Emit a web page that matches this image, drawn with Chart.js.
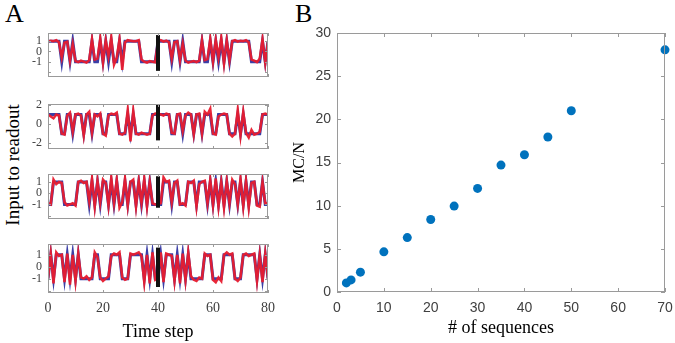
<!DOCTYPE html>
<html>
<head>
<meta charset="utf-8">
<script src="https://cdn.jsdelivr.net/npm/chart.js@4.4.0/dist/chart.umd.min.js"></script>
<style>
  body { margin: 0; background: #fff; width: 675px; height: 343px; position: relative; overflow: hidden; }
  canvas { position: absolute; }
  .lbl { position: absolute; color: #000; font-family: "Liberation Serif", serif; white-space: nowrap; line-height: 1; }
</style>
</head>
<body>
<div class="lbl" style="left:5px;top:1px;font-size:26px">A</div>
<div class="lbl" style="left:295px;top:1px;font-size:26px">B</div>
<div class="lbl" style="left:12px;top:165px;font-size:19px;transform:translate(-50%,-50%) rotate(-90deg)">Input to readout</div>

<canvas id="trace1" width="280" height="54" style="left:0;top:25px"></canvas>
<canvas id="trace2" width="280" height="55" style="left:0;top:96px"></canvas>
<canvas id="trace3" width="280" height="55" style="left:0;top:166px"></canvas>
<canvas id="trace4" width="280" height="107" style="left:0;top:236px"></canvas>
<canvas id="mcChart" width="385" height="323" style="left:290px;top:20px"></canvas>

<script>
// Panel A: target (blue) and readout (red) for four example runs, time steps 0..80
const target1 = [1,1,1,1,1,-1,1,1,-1,1, -1,-1,-1,-1,-1,-1,1,-1,-1,1, -1,1,-1,1,-1,-1,1,-1,1,1, 1,1,1,1,-1,-1,-1,-1,-1,-1,
  1,1,1,1,1,-1,1,1,-1,1, -1,-1,-1,-1,-1,-1,1,-1,-1,1, -1,1,-1,1,-1,1,-1,1,1,1, 1,1,1,1,-1,-1,-1,-1,1,-1, 1];
const readout1 = [0.95,1.05,1.0,1.1,0.9,-0.6,0.85,0.95,-0.9,0.7, -0.95,-1.05,-0.9,-1.0,-1.1,-0.85,1.2,-0.8,-0.7,1.3, -1.1,1.1,-0.5,1.4,-1.3,-0.6,1.2,-1.8,0.9,1.1, 1.05,1.0,1.0,1.1,-0.8,-1.0,-1.1,-0.95,-1.0,-1.05,
  1.0,1.1,0.95,1.05,0.9,-0.7,0.9,1.0,-0.85,0.75, -0.9,-1.1,-1.0,-0.95,-1.05,-0.9,1.1,-0.85,-0.75,1.25, -1.0,1.15,-0.6,1.35,-1.2,1.1,-0.9,1.0,1.1,0.95, 1.05,1.0,1.1,0.9,-0.8,-0.9,-1.05,-0.7,1.2,-1.1, 1.0];

const target2 = [1,1,1,1,1,-1,-1,1,1,-1, 1,1,1,-1,1,1,-1,1,1,1, -1,-1,1,1,1,1,-1,-1,-1,1, -1,1,-1,-1,-1,-1,-1,-1,1,1,
  1,1,1,1,1,-1,-1,1,1,-1, 1,1,1,-1,1,1,-1,1,1,1, -1,-1,1,1,1,1,-1,-1,-1,1, -1,1,-1,-1,-1,-1,-1,-1,1,1, 1];
const readout2 = [1.0,0.8,0.6,1.0,0.9,-1.0,-1.1,0.9,1.2,-0.8, 1.0,1.1,0.9,-1.2,1.0,1.3,-0.9,1.0,0.8,1.1, -1.0,-1.2,0.9,1.1,1.0,1.2,-1.0,-1.1,-0.9,1.5, -1.8,1.4,-1.0,-1.1,-0.9,-1.0,-1.1,-1.0,0.9,1.1,
  1.1,1.0,0.9,1.1,1.0,-0.9,-1.0,1.0,1.1,-0.7, 0.9,1.2,1.0,-1.1,1.0,1.1,-1.0,1.3,1.0,1.6, -1.0,-1.1,0.8,1.0,1.1,1.0,-1.0,-1.3,-1.0,1.5, -1.2,1.3,-0.9,-1.4,-0.6,-1.1,-1.0,-0.8,1.0,1.1, 1.0];

const target3 = [-1,-1,1,1,1,1,-1,-1,-1,-1, -1,1,1,1,1,-1,1,-1,1,-1, 1,1,-1,1,-1,1,-1,-1,1,-1, 1,1,-1,1,-1,1,-1,1,-1,-1,
  -1,-1,1,1,1,-1,1,1,-1,-1, -1,1,1,1,-1,1,1,1,-1,1, -1,1,-1,1,-1,1,-1,1,1,-1, 1,-1,1,-1,1,1,-1,-1,1,-1, -1];
const readout3 = [-0.9,-1.0,1.2,0.8,1.0,0.9,-0.8,-1.1,-1.0,-0.9, -1.1,1.0,1.1,0.9,1.0,-0.7,1.3,-1.2,1.1,-0.8, 1.2,0.9,-1.1,1.4,-0.9,1.2,-1.3,-0.8,1.3,-1.1, 1.0,1.2,-1.2,1.1,-0.9,1.3,-1.2,1.0,-0.9,-1.0,
  -1.0,-0.9,1.4,1.0,1.1,-0.8,0.9,1.1,-1.0,-0.9, -1.1,1.0,0.9,1.1,-1.2,0.8,1.0,1.1,-0.9,1.2, -1.1,1.3,-1.2,1.0,-1.3,1.1,-0.9,1.2,0.8,-1.0, 1.3,-1.2,1.1,-1.3,0.9,1.0,-1.1,-1.2,1.0,-0.9, -0.9];

const target4 = [-1,1,-1,1,1,1,-1,1,-1,1, -1,1,-1,-1,-1,-1,-1,1,1,-1, -1,-1,-1,1,1,1,1,-1,-1,-1, 1,1,1,1,1,-1,1,-1,1,-1,
  -1,1,-1,1,1,1,-1,1,-1,1, -1,1,-1,-1,-1,-1,-1,1,1,1, -1,-1,-1,-1,1,1,1,1,-1,-1, -1,1,1,1,1,1,-1,1,-1,1, -1];
const readout4 = [-1.0,1.1,-1.4,1.2,0.9,1.0,-1.3,1.1,-1.5,1.0, -1.2,1.1,-0.9,-1.0,-0.8,-1.1,-0.9,1.2,0.8,-0.9, -1.2,-1.0,-0.8,0.9,1.1,1.0,1.2,-0.9,-1.1,-1.0, 1.1,1.0,1.1,1.2,0.9,-1.3,1.0,-1.4,1.2,-1.1,
  -1.0,1.2,-1.3,1.1,1.0,0.9,-1.2,1.0,-1.4,1.1, -1.1,1.2,-0.8,-1.1,-1.2,-0.9,-1.0,1.1,0.9,1.0, -1.1,-1.3,-0.9,-1.2,1.0,1.2,1.0,1.1,-1.0,-1.2, -0.9,1.0,1.1,0.9,1.0,1.1,-1.2,1.0,-1.3,1.1, -1.0];

const xTicksA = [0, 20, 40, 60, 80];
const yTicksA = [[-2, -1, 0, 1], [-2, 0, 2], [-2, -1, 0, 1], [-2, -1, 0, 1]];
const yLabelsA = [[-1, 0, 1], [-2, 0, 2], [-1, 0, 1], [-1, 0, 1]];
const yRangeA = [[-2.5, 1.8], [-2.6, 2.1], [-2.3, 1.7], [-2.2, 1.9]];
// black cue bar at the middle of the run
const cueStep = 40;
const cueLow = [-1.9, -1.7, -1.3, -1.7];
const cueHigh = [1.6, 2.0, 1.5, 1.6];

// Panel B: memory capacity vs number of sequences
const seqCounts = [2, 3, 5, 10, 15, 20, 25, 30, 35, 40, 45, 50, 70];
const mcPerN = [1.05, 1.4, 2.3, 4.65, 6.3, 8.4, 9.95, 12.0, 14.7, 15.9, 17.95, 21.0, 28.05];
const xTicksB = [0, 10, 20, 30, 40, 50, 60, 70];
const yTicksB = [0, 5, 10, 15, 20, 25, 30];

// draws the MATLAB-style box with inward ticks on all four sides
const framePlugin = {
  id: 'frame',
  afterDraw(chart, args, opts) {
    const { ctx, chartArea: a, scales: { x, y } } = chart;
    const t = opts.tick || 3;
    ctx.save();
    ctx.strokeStyle = opts.color || '#9a9a9a';
    ctx.lineWidth = 1;
    ctx.strokeRect(a.left + 0.5, a.top + 0.5, a.right - a.left - 1, a.bottom - a.top - 1);
    ctx.beginPath();
    x.ticks.forEach(tk => {
      const px = Math.round(x.getPixelForValue(tk.value)) + 0.5;
      ctx.moveTo(px, a.bottom); ctx.lineTo(px, a.bottom - t);
      ctx.moveTo(px, a.top); ctx.lineTo(px, a.top + t);
    });
    y.ticks.forEach(tk => {
      const py = Math.round(y.getPixelForValue(tk.value)) + 0.5;
      ctx.moveTo(a.left, py); ctx.lineTo(a.left + t, py);
      ctx.moveTo(a.right, py); ctx.lineTo(a.right - t, py);
    });
    ctx.stroke();
    ctx.restore();
  }
};

// fixed axis sizes, and no extra room reserved for end labels
const fixX = h => s => { s.height = h; s.paddingLeft = 0; s.paddingRight = 0; };
const fixY = w => s => { s.width = w; s.paddingTop = 0; s.paddingBottom = 0; };

function makeTrace(id, k, target, readout, showX) {
  const toPts = arr => arr.map((v, i) => ({ x: i, y: v }));
  new Chart(document.getElementById(id), {
    type: 'line',
    data: {
      datasets: [
        { data: [{ x: cueStep, y: cueLow[k] }, { x: cueStep, y: cueHigh[k] }], borderColor: '#111', borderWidth: 4, pointRadius: 0, clip: 0 },
        { data: toPts(readout), borderColor: 'rgba(232,28,46,0.95)', borderWidth: 2.5, pointRadius: 0, borderJoinStyle: 'miter', clip: 0 },
        { data: toPts(target), borderColor: '#3b3fa6', borderWidth: 3, pointRadius: 0, borderJoinStyle: 'miter', clip: 0 }
      ]
    },
    options: {
      responsive: false,
      animation: false,
      layout: { autoPadding: false, padding: { top: 8, right: 12, left: 0, bottom: 0 } },
      plugins: { legend: { display: false }, tooltip: { enabled: false }, frame: { color: '#9a9a9a', tick: 3 } },
      scales: {
        x: {
          type: 'linear', min: 0, max: 80,
          afterBuildTicks: s => { s.ticks = xTicksA.map(v => ({ value: v })); },
          afterFit: fixX(showX ? 50 : 2),
          grid: { display: false, drawTicks: false },
          border: { display: false },
          ticks: { display: showX, autoSkip: false, maxRotation: 0, padding: 7, color: '#404040', font: { family: 'Liberation Serif', size: 14 } },
          title: { display: showX, text: 'Time step', color: '#000', padding: { top: 0, bottom: 0 }, font: { family: 'Liberation Serif', size: 18 } }
        },
        y: {
          min: yRangeA[k][0], max: yRangeA[k][1],
          afterBuildTicks: s => { s.ticks = yTicksA[k].map(v => ({ value: v })); },
          afterFit: fixY(48),
          grid: { display: false, drawTicks: false },
          border: { display: false },
          ticks: {
            autoSkip: false, padding: 6, color: '#404040', font: { family: 'Liberation Serif', size: 12 },
            callback: v => yLabelsA[k].includes(v) ? String(v) : ''
          }
        }
      }
    },
    plugins: [framePlugin]
  });
}

makeTrace('trace1', 0, target1, readout1, false);
makeTrace('trace2', 1, target2, readout2, false);
makeTrace('trace3', 2, target3, readout3, false);
makeTrace('trace4', 3, target4, readout4, true);

new Chart(document.getElementById('mcChart'), {
  type: 'scatter',
  data: {
    datasets: [{
      data: seqCounts.map((s, i) => ({ x: s, y: mcPerN[i] })),
      backgroundColor: '#0072BD', borderWidth: 0, pointRadius: 4.5, clip: false
    }]
  },
  options: {
    responsive: false,
    animation: false,
    layout: { autoPadding: false, padding: { top: 13, right: 10, left: 0, bottom: 0 } },
    plugins: { legend: { display: false }, tooltip: { enabled: false }, frame: { color: '#9a9a9a', tick: 4 } },
    scales: {
      x: {
        type: 'linear', min: 0, max: 70,
        afterBuildTicks: s => { s.ticks = xTicksB.map(v => ({ value: v })); },
        afterFit: fixX(51),
        grid: { display: false, drawTicks: false },
        border: { display: false },
        ticks: { autoSkip: false, maxRotation: 0, padding: 8, color: '#404040', font: { family: 'Liberation Sans', size: 14 } },
        title: { display: true, text: '# of sequences', color: '#000', padding: { top: 0, bottom: 4 }, font: { family: 'Liberation Serif', size: 18 } }
      },
      y: {
        min: 0, max: 30,
        afterBuildTicks: s => { s.ticks = yTicksB.map(v => ({ value: v })); },
        afterFit: fixY(47),
        grid: { display: false, drawTicks: false },
        border: { display: false },
        ticks: { autoSkip: false, padding: 6, color: '#404040', font: { family: 'Liberation Sans', size: 14 } },
        title: { display: true, text: 'MC/N', color: '#000', padding: { top: 0, bottom: 0 }, font: { family: 'Liberation Serif', size: 16 } }
      }
    }
  },
  plugins: [framePlugin]
});
</script>
</body>
</html>
